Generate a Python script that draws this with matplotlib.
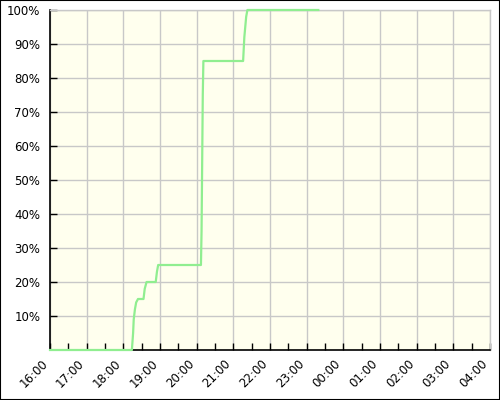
import matplotlib
matplotlib.use("Agg")
import matplotlib.pyplot as plt
from matplotlib.patches import Rectangle
from matplotlib.transforms import ScaledTranslation

times = ["16:00", "18:14", "18:16", "18:17", "18:19", "18:21", "18:24", "18:33",
         "18:35", "18:38", "18:53", "18:55", "18:57", "20:07", "20:08", "20:09",
         "20:10", "20:11", "21:16", "21:18", "21:21", "21:23", "23:19"]
values = [0, 0, 5, 9, 12, 14, 15, 15, 18, 20, 20, 23, 25, 25, 35, 55, 75, 85,
          85, 92, 98, 100, 100]
x_tick_labels = ["16:00", "17:00", "18:00", "19:00", "20:00", "21:00", "22:00",
                 "23:00", "00:00", "01:00", "02:00", "03:00", "04:00"]
y_ticks = [10, 20, 30, 40, 50, 60, 70, 80, 90, 100]


def to_hours(s):
    h, m = map(int, s.split(":"))
    if h < 16:
        h += 24
    return h + m / 60.0


xs = [to_hours(t) for t in times]
xticks = [to_hours(t) for t in x_tick_labels]

fig = plt.figure(figsize=(5, 4), dpi=100)
fig.patch.set_facecolor("white")
fig.patches.append(Rectangle((0, 0), 1, 1, transform=fig.transFigure,
                             fill=False, edgecolor="black", linewidth=1.5))
ax = fig.add_axes([0.1, 0.125, 0.88, 0.85])
ax.set_facecolor("#FFFFEE")

ax.plot(xs, values, color="#90EE90", linewidth=1.6, zorder=3, clip_on=False)

ax.set_xlim(xticks[0], xticks[-1])
ax.set_ylim(0, 100)
ax.set_xticks(xticks)
ax.set_xticks([x + 0.5 for x in xticks[:-1]], minor=True)
ax.set_xticklabels(x_tick_labels, rotation=45, ha="right", va="top",
                   rotation_mode="anchor", fontsize=8.5)
ax.set_yticks(y_ticks)
ax.set_yticklabels([f"{v}%" for v in y_ticks], fontsize=8.5)

ax.tick_params(axis="both", which="both", direction="in", length=5,
               width=1, color="black")
ax.tick_params(axis="x", which="major", pad=4)
ax.tick_params(axis="y", which="major", pad=7)
ax.grid(True, which="major", color="#C8C8C8", linewidth=1)
ax.set_axisbelow(True)

offset = ScaledTranslation(-9 / 100, -2 / 100, fig.dpi_scale_trans)
for lbl in ax.get_xticklabels():
    lbl.set_transform(lbl.get_transform() + offset)

for side in ("top", "right"):
    ax.spines[side].set_color("#C8C8C8")
    ax.spines[side].set_linewidth(1)
for side in ("left", "bottom"):
    ax.spines[side].set_color("black")
    ax.spines[side].set_linewidth(1.2)

fig.savefig("out.png", dpi=100)
